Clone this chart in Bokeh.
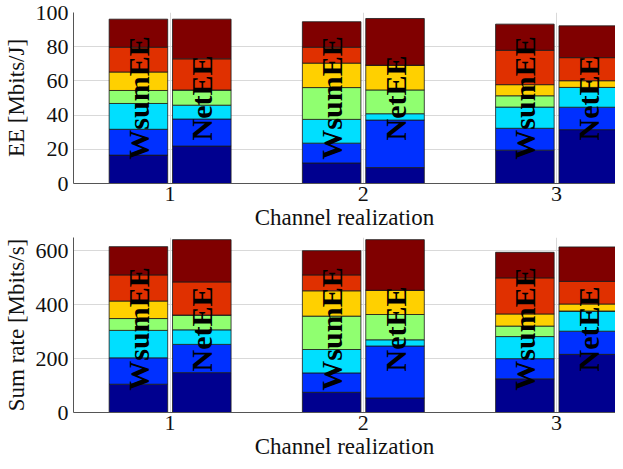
import math
from bokeh.plotting import figure
from bokeh.models import ColumnDataSource, Range1d, FixedTicker
from bokeh.layouts import column
from bokeh.core.properties import value
from bokeh.embed import file_html
from bokeh.resources import INLINE

channels = [1, 2, 3]
methods = ["WsumEE", "NetEE"]
colors = ["#00008F", "#0030FF", "#00DFFF", "#90FF70", "#FFD000", "#E03000", "#800000"]

# segments (bottom -> top) per channel
ee_wsumee = [[16.6, 15.1, 15.1, 7.6, 10.8, 14.5, 16.4],
             [12.0, 11.6, 13.9, 18.6, 14.3, 9.3, 14.9],
             [19.5, 12.8, 12.4, 6.6, 6.5, 20.1, 15.3]]
ee_netee = [[21.9, 15.8, 8.1, 8.9, 0.0, 18.2, 23.2],
            [9.3, 27.8, 3.7, 13.9, 14.5, 0.0, 27.3],
            [31.5, 13.1, 11.6, 0.0, 3.9, 13.5, 18.6]]
rate_wsumee = [[105, 98, 102, 44, 65, 97, 105],
               [75, 72, 87, 124, 94, 59, 90],
               [125, 75, 82, 39, 45, 134, 95]]
rate_netee = [[148, 105, 54, 55, 0, 123, 157],
              [54, 193, 23, 94, 90, 0, 188],
              [216, 86, 75, 0, 26, 84, 128]]

ee_ticks = [0, 20, 40, 60, 80, 100]
rate_ticks = [0, 200, 400, 600]

FONT = "Liberation Serif"
OFFSET = 0.164
BAR_W = 0.303


def make_fig(wsum, net, ylabel, ymax, ticks, label_y, height, btop):
    p = figure(width=615, height=height, output_backend="svg", toolbar_location=None,
               x_range=Range1d(0.5, 3.305), y_range=Range1d(0, ymax),
               min_border_left=66, min_border_right=0, min_border_top=btop,
               min_border_bottom=0)
    xs, labels = [], []
    cols = {f"s{i}": [] for i in range(7)}
    for ci, ch in enumerate(channels):
        for mi, (m, data) in enumerate(zip(methods, (wsum, net))):
            xs.append(ch + (-OFFSET if mi == 0 else OFFSET))
            labels.append(m)
            for i in range(7):
                cols[f"s{i}"].append(data[ci][i])
    src = ColumnDataSource(dict(x=xs, **cols))
    p.vbar_stack([f"s{i}" for i in range(7)], x="x", width=BAR_W, source=src,
                 color=colors, line_color="#1a1a1a", line_width=0.8)
    p.text(x=xs, y=[label_y] * len(xs), text=labels, angle=math.pi / 2,
           text_align="center", text_baseline="middle",
           text_font=value(FONT), text_font_style="bold", text_font_size="30px",
           text_color="black")
    p.xaxis.ticker = FixedTicker(ticks=channels)
    p.yaxis.ticker = FixedTicker(ticks=ticks)
    p.xaxis.axis_label = "Channel realization"
    p.yaxis.axis_label = ylabel
    for ax in (p.xaxis, p.yaxis):
        ax.axis_label_text_font = FONT
        ax.axis_label_text_font_style = "normal"
        ax.axis_label_text_font_size = "23px"
        ax.axis_label_text_color = "#111111"
        ax.major_label_text_font = FONT
        ax.major_label_text_font_size = "22px"
        ax.major_label_text_color = "#111111"
        ax.axis_line_color = "#555555"
        ax.major_tick_line_color = None
        ax.minor_tick_line_color = None
        ax.major_tick_out = 0
        ax.major_tick_in = 0
        ax.minor_tick_out = 0
    p.xaxis.major_label_standoff = 3
    p.xaxis.axis_label_standoff = 1
    p.yaxis.major_label_standoff = 5
    p.yaxis.axis_label_standoff = 4
    p.grid.grid_line_color = "#d9d9d9"
    p.grid.grid_line_width = 1
    p.outline_line_color = None
    return p


p1 = make_fig(ee_wsumee, ee_netee, "EE [Mbits/J]", 100, ee_ticks, 50, 232, 12)
p2 = make_fig(rate_wsumee, rate_netee, "Sum rate [Mbits/s]", 650, rate_ticks, 310, 229, 5)

layout = column(p1, p2, spacing=0)
open("out.html", "w").write(file_html(layout, INLINE))
